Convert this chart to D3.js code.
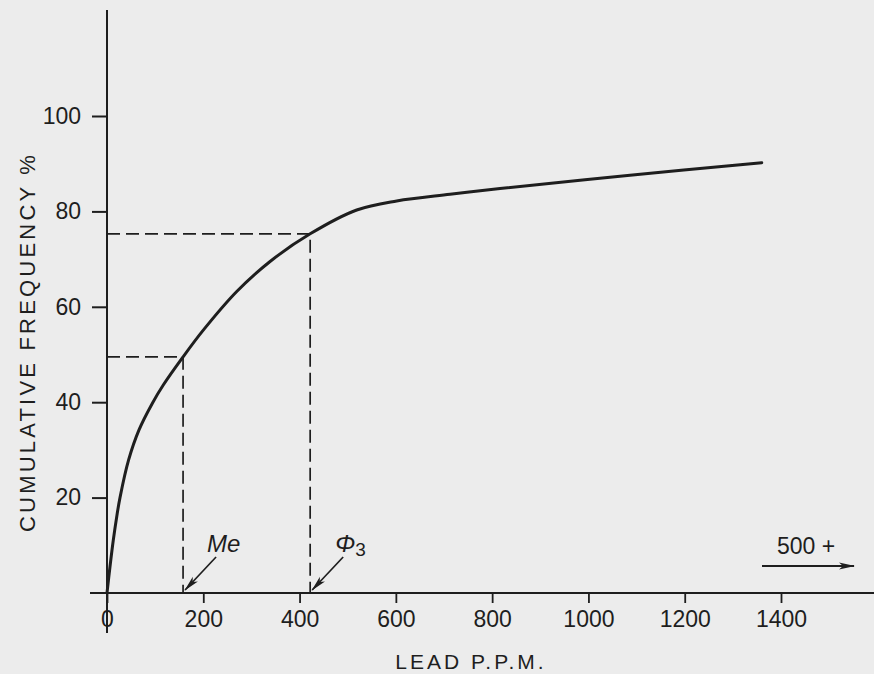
<!DOCTYPE html>
<html>
<head>
<meta charset="utf-8">
<script src="https://cdn.jsdelivr.net/npm/d3@7"></script>
<style>
  html, body { margin: 0; padding: 0; background: #ececec; }
  svg { display: block; }
  text { font-family: "Liberation Sans", Arial, sans-serif; fill: #1e1e1e; }
</style>
</head>
<body>
<svg id="chart" width="874" height="674"></svg>
<script>
// ---- data ----
const leadPPM   = [0, 6.2, 13.1, 20.2, 27, 44.9, 66.5, 94.3, 116.9, 158, 200, 269.5, 338.7, 422, 518.7, 601.8, 712.5, 816.4, 1086.4, 1360];
const cumFreq   = [0, 5.5, 11.1, 16.0, 20, 27.9, 34.2, 39.8, 43.6, 49.5, 55.1, 63.2, 69.5, 75.3, 80.3, 82.2, 83.6, 84.8, 87.6, 90.2];
const xTicks    = [0, 200, 400, 600, 800, 1000, 1200, 1400];
const yTicks    = [20, 40, 60, 80, 100];
const medianPt  = {label: "Me", x: 158, y: 49.5};
const q3Pt      = {label: "\u03A6", sub: "3", x: 422, y: 75.3};
const xTitle    = "LEAD  P.P.M.";
const yTitle    = "CUMULATIVE  FREQUENCY  %";
const overflowLabel = "500 +";

const svg = d3.select("#chart");
const ink = "#1e1e1e";

const x = d3.scaleLinear().domain([0, 1400]).range([107, 781]);
const y = d3.scaleLinear().domain([0, 100]).range([593, 116]);

// arrow marker
const defs = svg.append("defs");
defs.append("marker").attr("id", "ah").attr("viewBox", "0 0 16 8")
  .attr("refX", 15).attr("refY", 4).attr("markerWidth", 16).attr("markerHeight", 8)
  .attr("markerUnits", "userSpaceOnUse").attr("orient", "auto")
  .append("path").attr("d", "M0,0.5 L16,4 L0,7.5 L4,4 Z").attr("fill", ink);

// axis lines
svg.append("line").attr("x1", x(0)).attr("x2", x(0)).attr("y1", 10).attr("y2", y(0) + 40)
  .attr("stroke", ink).attr("stroke-width", 2);
svg.append("line").attr("x1", x(0) - 17).attr("x2", 874).attr("y1", y(0)).attr("y2", y(0))
  .attr("stroke", ink).attr("stroke-width", 2);

// y axis
const yAxis = d3.axisLeft(y).tickValues(yTicks).tickSize(15).tickPadding(11).tickFormat(d3.format("d"));
const gy = svg.append("g").attr("transform", `translate(${x(0)},0)`).call(yAxis);
gy.select(".domain").remove();
gy.selectAll(".tick line").attr("stroke", ink).attr("stroke-width", 2);
gy.selectAll(".tick text").attr("font-size", 23).attr("fill", ink).style("font-family", "Liberation Sans, Arial, sans-serif");

// x axis
const xAxis = d3.axisBottom(x).tickValues(xTicks).tickSize(10).tickPadding(8).tickFormat(d3.format("d"));
const gx = svg.append("g").attr("transform", `translate(0,${y(0)})`).call(xAxis);
gx.select(".domain").remove();
gx.selectAll(".tick line").attr("stroke", ink).attr("stroke-width", 1.8);
gx.selectAll(".tick text").attr("font-size", 23).attr("fill", ink).style("font-family", "Liberation Sans, Arial, sans-serif");

// dashed guides
function guide(p) {
  svg.append("path")
    .attr("d", `M${x(0)},${y(p.y)} H${x(p.x)} V${y(0)}`)
    .attr("fill", "none").attr("stroke", ink).attr("stroke-width", 1.7)
    .attr("stroke-dasharray", "13,6");
}
guide(medianPt);
guide(q3Pt);

// curve
const pts = leadPPM.map((v, i) => [v, cumFreq[i]]);
svg.append("path").datum(pts)
  .attr("d", d3.line().x(d => x(d[0])).y(d => y(d[1])).curve(d3.curveCatmullRom.alpha(0.5)))
  .attr("fill", "none").attr("stroke", ink).attr("stroke-width", 3)
  .attr("stroke-linecap", "round").attr("stroke-linejoin", "round");

// annotation arrows + labels
function callout(p, dx) {
  const tx = x(p.x) + 2, ty = y(0) - 3;
  svg.append("line").attr("x1", tx + 31).attr("y1", ty - 33).attr("x2", tx).attr("y2", ty)
    .attr("stroke", ink).attr("stroke-width", 1.7).attr("marker-end", "url(#ah)");
  const t = svg.append("text").attr("x", tx + dx).attr("y", ty - 38)
    .attr("font-size", 24).attr("font-style", "italic");
  t.append("tspan").text(p.label);
  if (p.sub) t.append("tspan").attr("font-size", 19).attr("font-style", "normal").attr("dy", 4).text(p.sub);
}
callout(medianPt, 22);
callout(q3Pt, 23);

// overflow marker
svg.append("text").attr("x", 806).attr("y", 554).attr("text-anchor", "middle")
  .attr("font-size", 23).text(overflowLabel);
svg.append("line").attr("x1", 762).attr("x2", 854).attr("y1", 566).attr("y2", 566)
  .attr("stroke", ink).attr("stroke-width", 1.8).attr("marker-end", "url(#ah)");

// titles
svg.append("text").attr("x", 471).attr("y", 669).attr("text-anchor", "middle")
  .attr("font-size", 21).attr("letter-spacing", 3).text(xTitle);
svg.append("text").attr("transform", "translate(35,342) rotate(-90)").attr("text-anchor", "middle")
  .attr("font-size", 22).attr("letter-spacing", 3.2).text(yTitle);
</script>
</body>
</html>
